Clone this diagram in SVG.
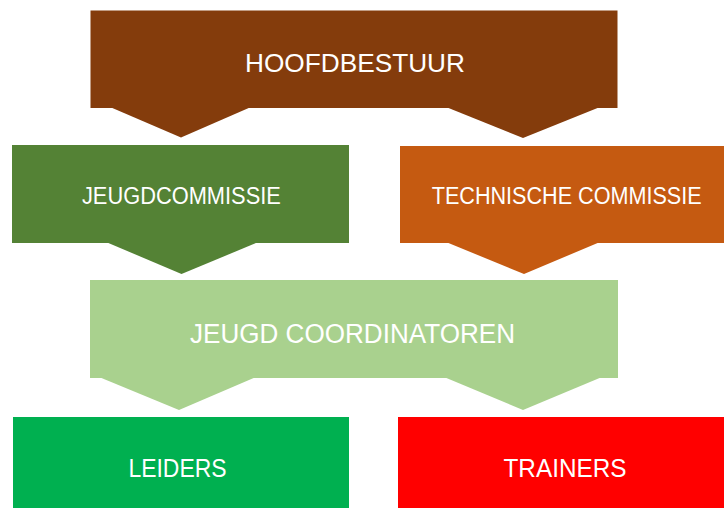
<svg xmlns="http://www.w3.org/2000/svg" width="724" height="508" viewBox="0 0 724 508">
<style>
text{font-family:"Liberation Sans",Arial,sans-serif;fill:#ffffff;text-anchor:middle}
.brown{fill:#843C0C}
.dgreen{fill:#548235}
.orange{fill:#C55A11}
.lgreen{fill:#A9D18E}
.green{fill:#00B050}
.red{fill:#FF0000}
</style>
<rect width="724" height="508" fill="#ffffff"/>
<g id="connectors">
<polygon class="brown" points="110,107 181,137.5 251,107"/>
<polygon class="brown" points="446,107 523,138 600,107"/>
<polygon class="dgreen" points="106,242 181.5,274 258.5,242"/>
<polygon class="orange" points="446,242 524,274 600,242"/>
<polygon class="lgreen" points="99,377 179,410 256,377"/>
<polygon class="lgreen" points="444,377 523,410 602,377"/>
</g>
<g id="hoofdbestuur">
<rect class="brown" x="90.5" y="10.5" width="527" height="97.5"/>
<text x="355" y="71.7" font-size="26" textLength="220" lengthAdjust="spacingAndGlyphs">HOOFDBESTUUR</text>
</g>
<g id="jeugdcommissie">
<rect class="dgreen" x="12" y="145" width="337" height="98"/>
<text x="181.4" y="204.3" font-size="23" textLength="199" lengthAdjust="spacingAndGlyphs">JEUGDCOMMISSIE</text>
</g>
<g id="technische-commissie">
<rect class="orange" x="400" y="146" width="324" height="97"/>
<text x="566.7" y="204.3" font-size="23" textLength="270" lengthAdjust="spacingAndGlyphs">TECHNISCHE COMMISSIE</text>
</g>
<g id="jeugd-coordinatoren">
<rect class="lgreen" x="90" y="280" width="528" height="98"/>
<text x="352.5" y="342.5" font-size="27" textLength="325" lengthAdjust="spacingAndGlyphs">JEUGD COORDINATOREN</text>
</g>
<g id="leiders">
<rect class="green" x="13" y="417" width="336" height="91"/>
<text x="177.5" y="476.7" font-size="25.5" textLength="98" lengthAdjust="spacingAndGlyphs">LEIDERS</text>
</g>
<g id="trainers">
<rect class="red" x="398" y="417" width="326" height="91"/>
<text x="565" y="476.7" font-size="25.5" textLength="123" lengthAdjust="spacingAndGlyphs">TRAINERS</text>
</g>
</svg>
